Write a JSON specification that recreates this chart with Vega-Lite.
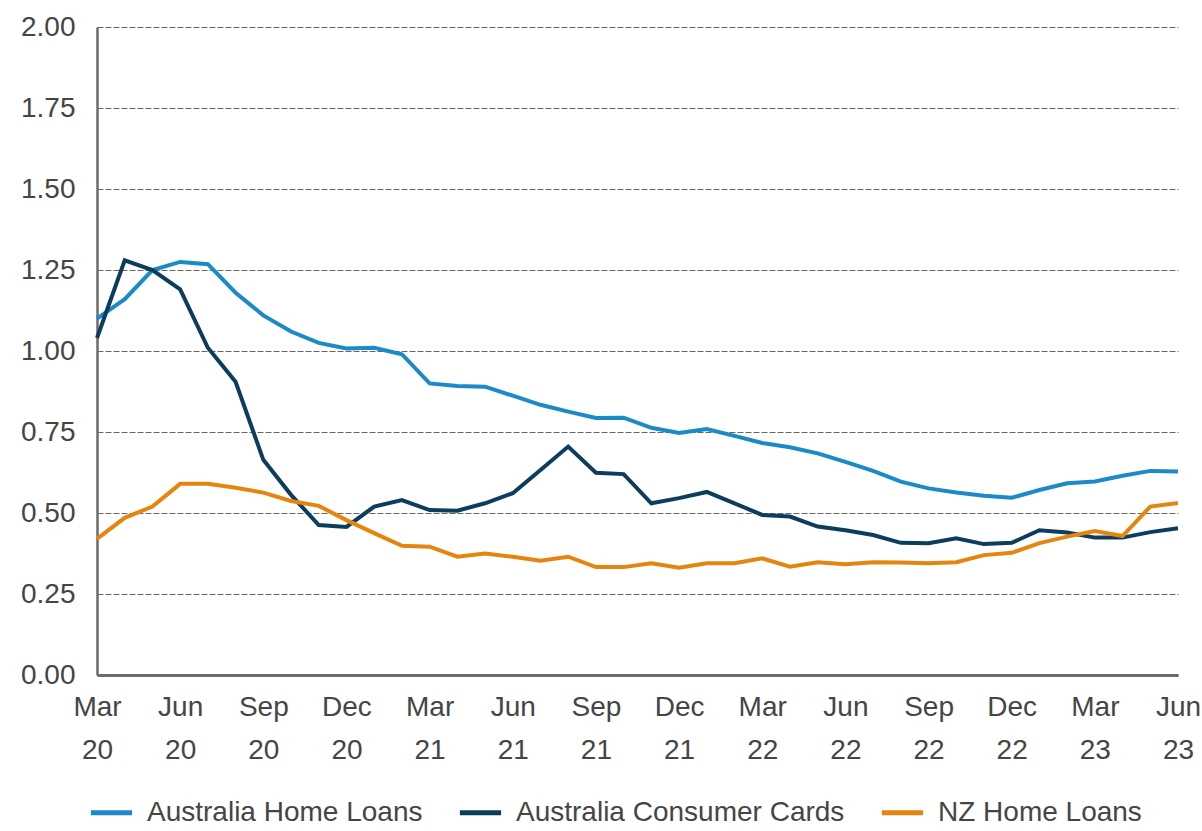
{
  "$schema": "https://vega.github.io/schema/vega-lite/v6.json",
  "width": 1081,
  "height": 648,
  "autosize": {"type": "none"},
  "padding": {"left": 97, "top": 27, "right": 24, "bottom": 156},
  "background": "white",
  "config": {
    "view": {"stroke": null},
    "font": "Liberation Sans"
  },
  "data": {
    "values": [
      {"m": "Mar 20", "Australia Home Loans": 1.10, "Australia Consumer Cards": 1.04, "NZ Home Loans": 0.42},
      {"m": "Apr 20", "Australia Home Loans": 1.16, "Australia Consumer Cards": 1.28, "NZ Home Loans": 0.485},
      {"m": "May 20", "Australia Home Loans": 1.25, "Australia Consumer Cards": 1.25, "NZ Home Loans": 0.52},
      {"m": "Jun 20", "Australia Home Loans": 1.275, "Australia Consumer Cards": 1.19, "NZ Home Loans": 0.59},
      {"m": "Jul 20", "Australia Home Loans": 1.268, "Australia Consumer Cards": 1.01, "NZ Home Loans": 0.59},
      {"m": "Aug 20", "Australia Home Loans": 1.18, "Australia Consumer Cards": 0.905, "NZ Home Loans": 0.578},
      {"m": "Sep 20", "Australia Home Loans": 1.11, "Australia Consumer Cards": 0.664, "NZ Home Loans": 0.563},
      {"m": "Oct 20", "Australia Home Loans": 1.06, "Australia Consumer Cards": 0.556, "NZ Home Loans": 0.537},
      {"m": "Nov 20", "Australia Home Loans": 1.025, "Australia Consumer Cards": 0.463, "NZ Home Loans": 0.522},
      {"m": "Dec 20", "Australia Home Loans": 1.008, "Australia Consumer Cards": 0.457, "NZ Home Loans": 0.478},
      {"m": "Jan 21", "Australia Home Loans": 1.01, "Australia Consumer Cards": 0.52, "NZ Home Loans": 0.438},
      {"m": "Feb 21", "Australia Home Loans": 0.99, "Australia Consumer Cards": 0.54, "NZ Home Loans": 0.399},
      {"m": "Mar 21", "Australia Home Loans": 0.90, "Australia Consumer Cards": 0.509, "NZ Home Loans": 0.396},
      {"m": "Apr 21", "Australia Home Loans": 0.892, "Australia Consumer Cards": 0.507, "NZ Home Loans": 0.365},
      {"m": "May 21", "Australia Home Loans": 0.89, "Australia Consumer Cards": 0.53, "NZ Home Loans": 0.375},
      {"m": "Jun 21", "Australia Home Loans": 0.862, "Australia Consumer Cards": 0.561, "NZ Home Loans": 0.365},
      {"m": "Jul 21", "Australia Home Loans": 0.834, "Australia Consumer Cards": 0.633, "NZ Home Loans": 0.353},
      {"m": "Aug 21", "Australia Home Loans": 0.813, "Australia Consumer Cards": 0.705, "NZ Home Loans": 0.365},
      {"m": "Sep 21", "Australia Home Loans": 0.793, "Australia Consumer Cards": 0.624, "NZ Home Loans": 0.333},
      {"m": "Oct 21", "Australia Home Loans": 0.794, "Australia Consumer Cards": 0.62, "NZ Home Loans": 0.333},
      {"m": "Nov 21", "Australia Home Loans": 0.763, "Australia Consumer Cards": 0.53, "NZ Home Loans": 0.345},
      {"m": "Dec 21", "Australia Home Loans": 0.747, "Australia Consumer Cards": 0.546, "NZ Home Loans": 0.331},
      {"m": "Jan 22", "Australia Home Loans": 0.759, "Australia Consumer Cards": 0.565, "NZ Home Loans": 0.345},
      {"m": "Feb 22", "Australia Home Loans": 0.738, "Australia Consumer Cards": 0.53, "NZ Home Loans": 0.345},
      {"m": "Mar 22", "Australia Home Loans": 0.716, "Australia Consumer Cards": 0.494, "NZ Home Loans": 0.36},
      {"m": "Apr 22", "Australia Home Loans": 0.703, "Australia Consumer Cards": 0.489, "NZ Home Loans": 0.334},
      {"m": "May 22", "Australia Home Loans": 0.684, "Australia Consumer Cards": 0.458, "NZ Home Loans": 0.348},
      {"m": "Jun 22", "Australia Home Loans": 0.658, "Australia Consumer Cards": 0.447, "NZ Home Loans": 0.342},
      {"m": "Jul 22", "Australia Home Loans": 0.63, "Australia Consumer Cards": 0.432, "NZ Home Loans": 0.348},
      {"m": "Aug 22", "Australia Home Loans": 0.597, "Australia Consumer Cards": 0.408, "NZ Home Loans": 0.347},
      {"m": "Sep 22", "Australia Home Loans": 0.576, "Australia Consumer Cards": 0.407, "NZ Home Loans": 0.345},
      {"m": "Oct 22", "Australia Home Loans": 0.563, "Australia Consumer Cards": 0.422, "NZ Home Loans": 0.348},
      {"m": "Nov 22", "Australia Home Loans": 0.553, "Australia Consumer Cards": 0.404, "NZ Home Loans": 0.37},
      {"m": "Dec 22", "Australia Home Loans": 0.547, "Australia Consumer Cards": 0.408, "NZ Home Loans": 0.377},
      {"m": "Jan 23", "Australia Home Loans": 0.571, "Australia Consumer Cards": 0.447, "NZ Home Loans": 0.407},
      {"m": "Feb 23", "Australia Home Loans": 0.592, "Australia Consumer Cards": 0.44, "NZ Home Loans": 0.427},
      {"m": "Mar 23", "Australia Home Loans": 0.597, "Australia Consumer Cards": 0.424, "NZ Home Loans": 0.444},
      {"m": "Apr 23", "Australia Home Loans": 0.615, "Australia Consumer Cards": 0.424, "NZ Home Loans": 0.429},
      {"m": "May 23", "Australia Home Loans": 0.63, "Australia Consumer Cards": 0.441, "NZ Home Loans": 0.52},
      {"m": "Jun 23", "Australia Home Loans": 0.628, "Australia Consumer Cards": 0.453, "NZ Home Loans": 0.531}
    ]
  },
  "transform": [
    {"fold": ["Australia Home Loans", "Australia Consumer Cards", "NZ Home Loans"], "as": ["series", "value"]}
  ],
  "mark": {"type": "line", "strokeWidth": 4, "strokeJoin": "miter"},
  "encoding": {
    "x": {
      "field": "m",
      "type": "ordinal",
      "sort": null,
      "scale": {"type": "point", "padding": 0},
      "axis": {
        "title": null,
        "labelAngle": 0,
        "ticks": false,
        "grid": false,
        "domain": true,
        "domainColor": "#6b6b6b",
        "domainWidth": 3,
        "labelFontSize": 28,
        "labelColor": "#454545",
        "labelPadding": 18,
        "labelLineHeight": 43,
        "labelOverlap": false,
        "labelExpr": "test(/^(Mar|Jun|Sep|Dec)/, datum.value) ? split(datum.value,' ') : ''"
      }
    },
    "y": {
      "field": "value",
      "type": "quantitative",
      "scale": {"domain": [0, 2], "nice": false, "zero": true},
      "axis": {
        "title": null,
        "values": [0, 0.25, 0.5, 0.75, 1, 1.25, 1.5, 1.75, 2],
        "format": ".2f",
        "ticks": false,
        "domain": true,
        "domainColor": "#6b6b6b",
        "domainWidth": 2.5,
        "grid": true,
        "gridColor": "#666666",
        "gridDash": [6, 2],
        "gridWidth": 1,
        "labelFontSize": 28,
        "labelColor": "#454545",
        "labelPadding": 22
      }
    },
    "color": {
      "field": "series",
      "type": "nominal",
      "sort": ["Australia Home Loans", "Australia Consumer Cards", "NZ Home Loans"],
      "scale": {
        "domain": ["Australia Home Loans", "Australia Consumer Cards", "NZ Home Loans"],
        "range": ["#1b8ac6", "#0c3d5c", "#e5850f"]
      },
      "legend": {
        "title": null,
        "orient": "none",
        "direction": "horizontal",
        "legendX": -9,
        "legendY": 762,
        "symbolType": "stroke",
        "symbolSize": 1700,
        "symbolStrokeWidth": 5,
        "labelFontSize": 28,
        "labelColor": "#454545",
        "labelLimit": 0,
        "labelOffset": 12,
        "columnPadding": 26
      }
    }
  }
}
